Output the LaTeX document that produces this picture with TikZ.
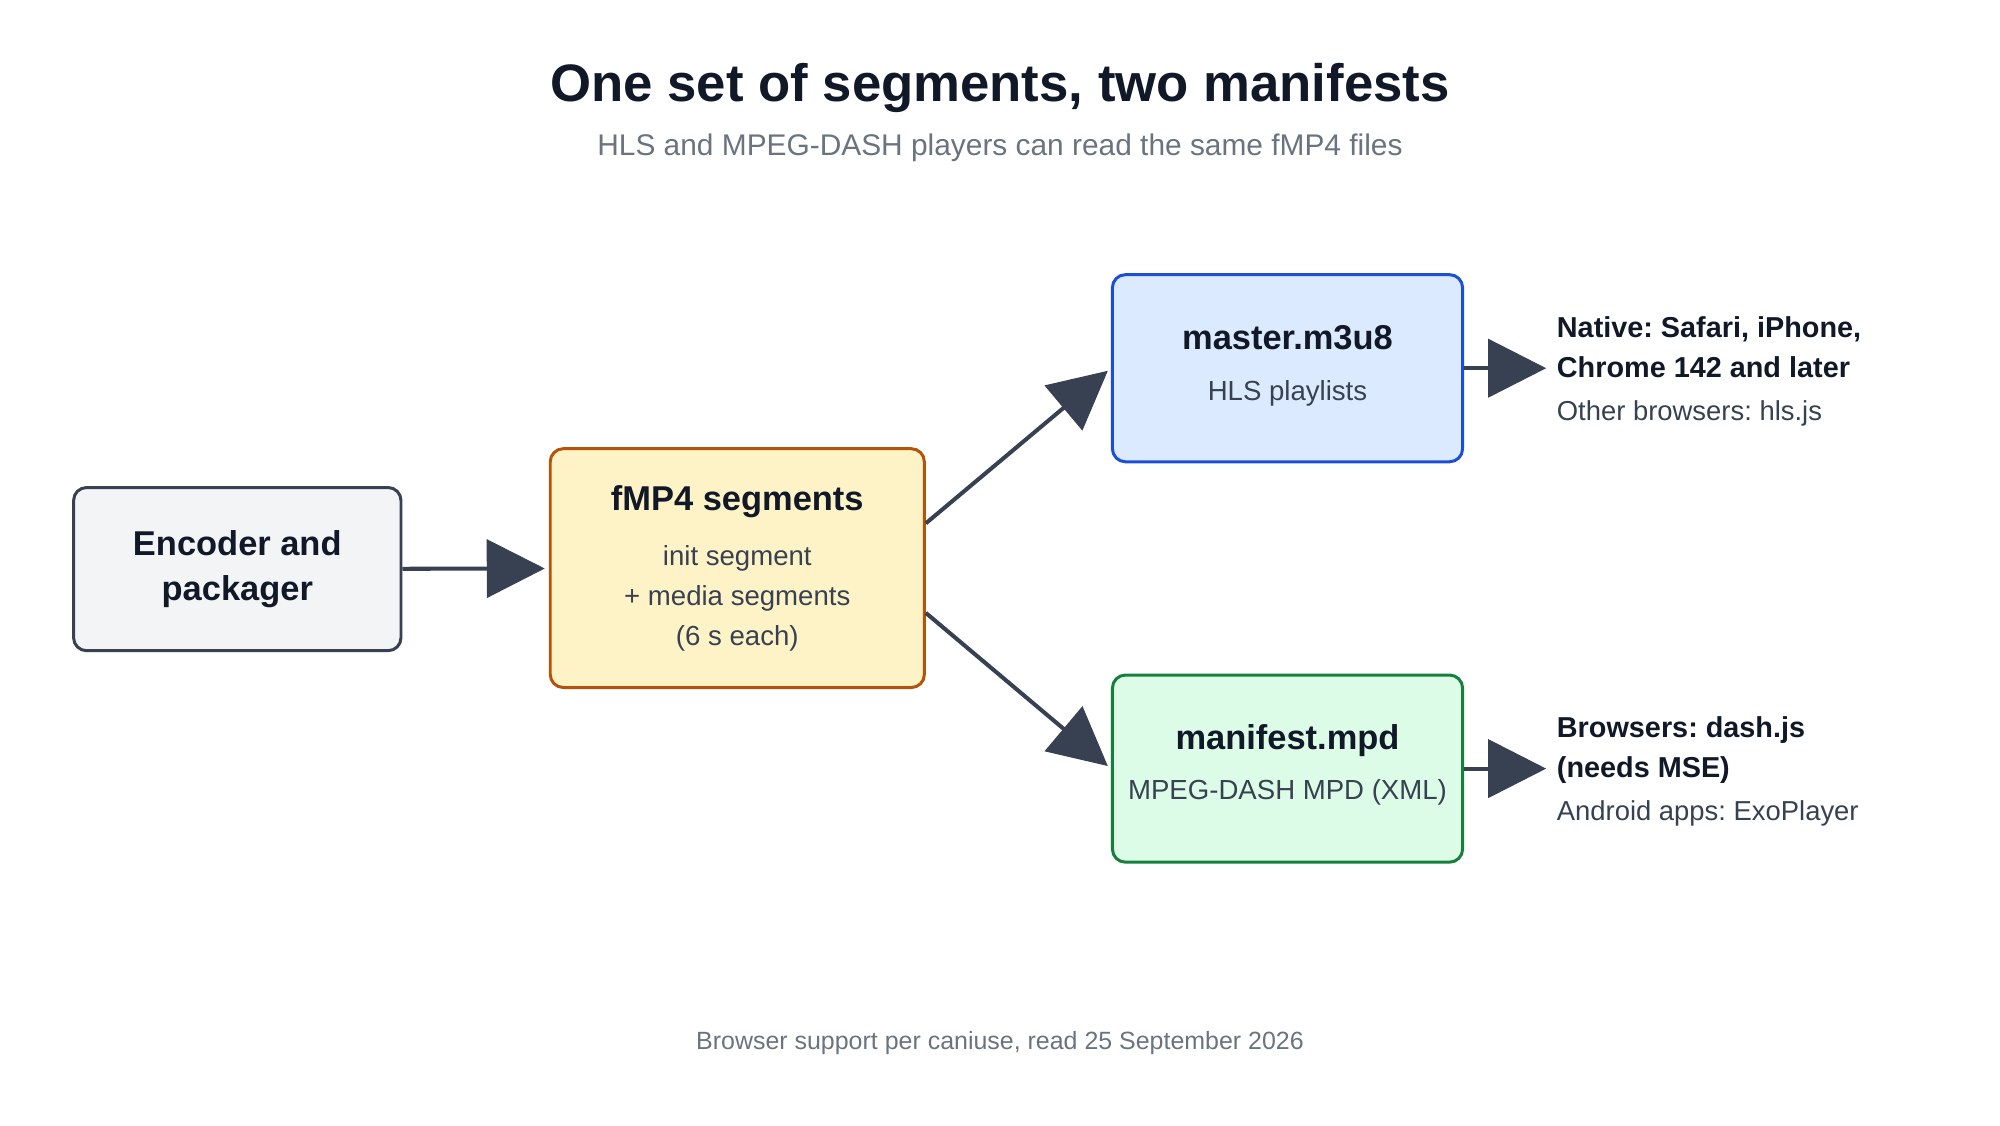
\documentclass[tikz,border=0pt]{standalone}
\usepackage{fontspec}
\setmainfont{Liberation Sans}
\usepackage{tikz}
\usetikzlibrary{arrows.meta,positioning}
\frenchspacing
\definecolor{ink}{HTML}{111827}
\definecolor{body}{HTML}{374151}
\definecolor{muted}{HTML}{6B7280}
\definecolor{encfill}{HTML}{F3F4F6}
\definecolor{segfill}{HTML}{FEF3C7}
\definecolor{segline}{HTML}{B45309}
\definecolor{hlsfill}{HTML}{DBEAFE}
\definecolor{hlsline}{HTML}{1D4ED8}
\definecolor{dashfill}{HTML}{DCFCE7}
\definecolor{dashline}{HTML}{15803D}
\newcommand{\boxhead}[1]{{\fontsize{9.8}{12}\selectfont\bfseries\color{ink}#1}}
\newcommand{\notehead}[1]{{\fontsize{8.2}{11.3}\selectfont\bfseries\color{ink}#1}}

\begin{document}
\begin{tikzpicture}[
        stage/.style={draw, rounded corners=0.13cm, line width=0.85pt, align=center,
            inner sep=0pt, text=body, font=\fontsize{7.85}{11.3}\selectfont},
        note/.style={anchor=west, align=left, inner sep=0pt, text=body,
            font=\fontsize{7.8}{11.3}\selectfont},
        flow/.style={draw=body, line width=1.15pt, shorten >=0.04cm,
            -{Triangle[length=0.58cm,width=0.58cm]}}]
        \useasboundingbox (0,0) rectangle (20,-11.25);
        \draw node (title) at (10,-0.88) {\fontsize{15}{18}\selectfont\bfseries\color{ink}One set of segments, two manifests};
        \draw node (subtitle) at (10,-1.475) {\fontsize{8.5}{10}\selectfont\color{muted}HLS and MPEG-DASH players can read the same fMP4 files};
        % boxes
        \node[stage, fill=encfill, draw=body, minimum width=3.274cm, minimum height=1.632cm,
            font=\fontsize{9.8}{13}\selectfont\bfseries, text=ink] (enc) at (2.373,-5.691) {Encoder and\\packager};
        \node[stage, fill=segfill, draw=segline, minimum width=3.741cm, minimum height=2.388cm] (seg) at (7.373,-5.681)
            {\boxhead{fMP4 segments}\\[4.6pt] init segment\\ + media segments\\ (6 s each)};
        \node[stage, fill=hlsfill, draw=hlsline, minimum width=3.502cm, minimum height=1.871cm, text depth=3pt] (hls) at (12.875,-3.682)
            {\boxhead{master.m3u8}\\[3pt] HLS playlists};
        \node[stage, fill=dashfill, draw=dashline, minimum width=3.502cm, minimum height=1.871cm, text depth=3.8pt] (dash) at (12.875,-7.686)
            {\boxhead{manifest.mpd}\\[3pt] MPEG-DASH MPD (XML)};
        % player notes
        \node[note] (hlsnote) at (15.562,-3.717)
            {\notehead{Native: Safari, iPhone,}\\ \notehead{Chrome 142 and later}\\[1pt] Other browsers: hls.js};
        \node[note] (dashnote) at (15.562,-7.718)
            {\notehead{Browsers: dash.js}\\ \notehead{(needs MSE)}\\[1pt] Android apps: ExoPlayer};
        % arrows
        \draw[flow] (enc) -- (seg);
        \draw[flow] ([yshift=0.448cm]seg.east) -- (hls.west);
        \draw[flow] ([yshift=-0.448cm]seg.east) -- (dash.west);
        \draw[flow, shorten >=0.1cm] (hls.east) -- (hlsnote.west |- hls.east);
        \draw[flow, shorten >=0.1cm] (dash.east) -- (dashnote.west |- dash.east);
        \draw node (footer) at (10,-10.435) {\fontsize{7.1}{9}\selectfont\color{muted}Browser support per caniuse, read 25 September 2026};
    \end{tikzpicture}
\end{document}
